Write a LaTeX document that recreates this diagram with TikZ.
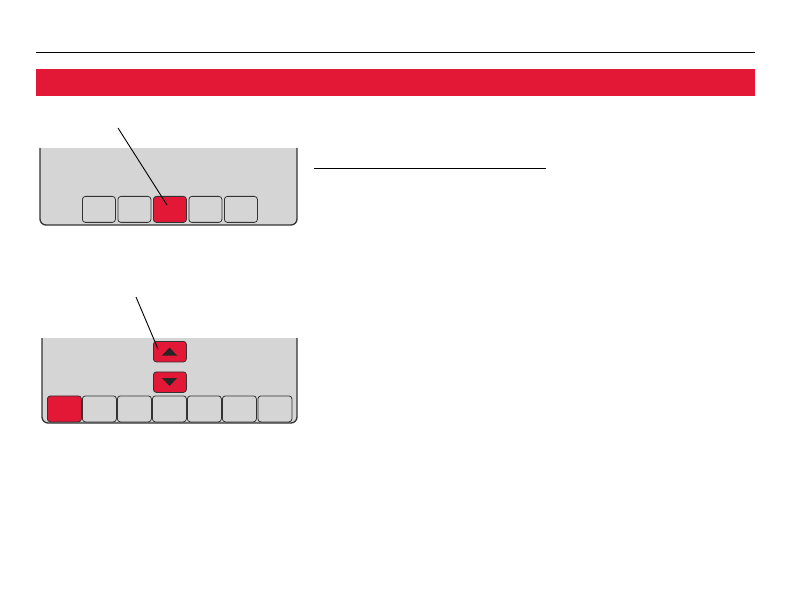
\documentclass[tikz,border=0pt]{standalone}
\begin{document}
\begin{tikzpicture}[x=1pt,y=-1pt,
  panel/.style={fill=panelgray,draw=none},
  panelrim/.style={draw=rimgray,line width=1.3pt,rounded corners=6pt},
  key/.style={draw=rimgray,line width=0.8pt,rounded corners=3pt,fill=panelgray,minimum width=33pt,minimum height=26pt,inner sep=0pt,anchor=north west},
  redkey/.style={key,fill=hred},
  arrowkey/.style={draw=rimgray,line width=0.8pt,rounded corners=3pt,fill=hred,minimum width=33pt,minimum height=20.5pt,inner sep=0pt,anchor=north west},
  leader/.style={draw=black,line width=0.9pt},
  tri/.style={fill=black!85,draw=none}
]
\definecolor{hred}{HTML}{E31837}
\definecolor{panelgray}{HTML}{D5D5D5}
\definecolor{rimgray}{HTML}{333333}
\useasboundingbox (0,0) rectangle (792,612);
\fill[white] (0,0) rectangle (792,612);

% header rule and red bar
\draw[line width=1pt] (36,53) -- (755,53);
\fill[hred] (36,69) rectangle (755,96);

% underline
\draw[line width=1pt] (314,169) -- (546,169);

% panel 1
\fill[panelgray,rounded corners=6pt] (40,140) -- (40,225) -- (297,225) -- (297,140) -- cycle;
\fill[white] (38,130) rectangle (300,148);
\draw[panelrim] (40,148) -- (40,225) -- (297,225) -- (297,148);
\node[key] (a1) at (82,196) {};
\node[key] (a2) at (117.5,196) {};
\node[redkey] (a3) at (153,196) {};
\node[key] (a4) at (188.5,196) {};
\node[key] (a5) at (224,196) {};
\coordinate (l1s) at (118,128);
\coordinate (l1e) at (167,205);
\draw[leader] (l1s) -- (l1e);

% panel 2
\fill[panelgray,rounded corners=6pt] (42,330) -- (42,423) -- (297,423) -- (297,330) -- cycle;
\fill[white] (38,320) rectangle (300,338);
\draw[panelrim] (42,338) -- (42,423) -- (297,423) -- (297,338);
\node[arrowkey] (up) at (153,341) {};
\node[arrowkey] (dn) at (153,371.5) {};
\fill[tri] (169.5,347.5) -- (177,355.5) -- (162,355.5) -- cycle;
\fill[tri] (162,378) -- (177,378) -- (169.5,386) -- cycle;
\node[redkey,minimum width=34pt] (b1) at (47,395.5) {};
\node[key,minimum width=34pt] (b2) at (82,395.5) {};
\node[key,minimum width=34pt] (b3) at (117,395.5) {};
\node[key,minimum width=34pt] (b4) at (152,395.5) {};
\node[key,minimum width=34pt] (b5) at (187,395.5) {};
\node[key,minimum width=34pt] (b6) at (222,395.5) {};
\node[key,minimum width=34pt] (b7) at (257.5,395.5) {};
\coordinate (l2s) at (136,297);
\coordinate (l2e) at (158,349);
\draw[leader] (l2s) -- (l2e);
\end{tikzpicture}
\end{document}
